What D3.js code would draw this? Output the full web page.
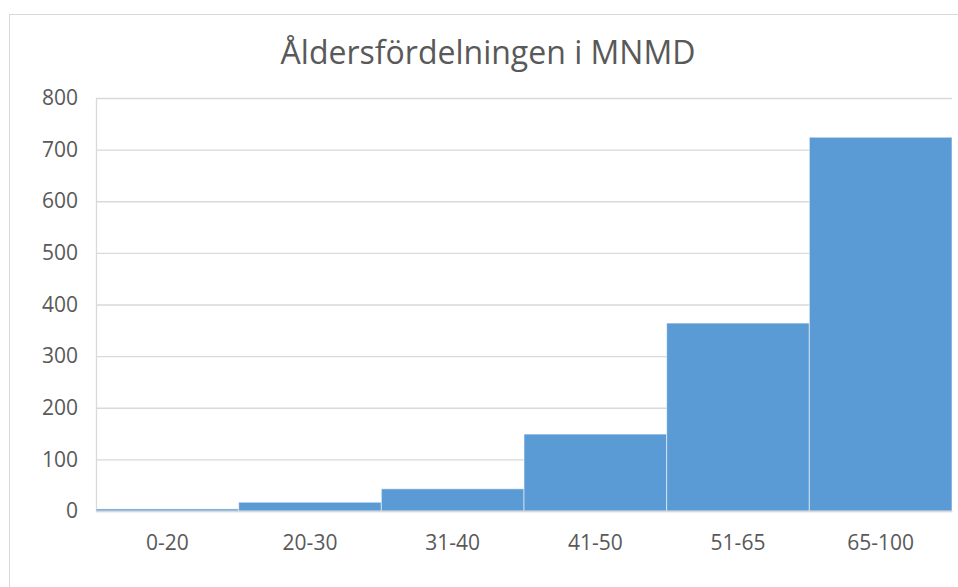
<!DOCTYPE html>
<html>
<head>
<meta charset="utf-8">
<script src="https://cdn.jsdelivr.net/npm/d3@7"></script>
<style>
  html, body { margin: 0; padding: 0; background: #fff; }
  svg { display: block; }
</style>
</head>
<body>
<svg id="chart" width="958" height="587"></svg>
<script>
const titleText = "Åldersfördelningen i MNMD";
const categories = ["0-20", "20-30", "31-40", "41-50", "51-65", "65-100"];
const values = [4, 17, 43, 149, 364, 724];
const yTicks = [0, 100, 200, 300, 400, 500, 600, 700, 800];

const W = 958, H = 587;
const margin = { left: 96, right: 6, top: 98, bottom: 76 };
const svg = d3.select("#chart");
const font = "'Open Sans', 'DejaVu Sans', sans-serif";
const textColor = "#595959";
const gridColor = "#d9d9d9";

// Chart area border
svg.append("rect")
  .attr("x", 9.5).attr("y", 14.5)
  .attr("width", 1200).attr("height", 1200)
  .attr("fill", "#fff")
  .attr("stroke", gridColor).attr("stroke-width", 1);

const x = d3.scaleBand()
  .domain(categories)
  .range([margin.left, W - margin.right])
  .paddingInner(0).paddingOuter(0);

const y = d3.scaleLinear()
  .domain([0, 800])
  .range([H - margin.bottom, margin.top]);

// Gridlines
const yAxisGrid = d3.axisLeft(y)
  .tickValues(yTicks)
  .tickSize(-(W - margin.right - margin.left))
  .tickFormat("");
const grid = svg.append("g")
  .attr("transform", `translate(${margin.left},0)`)
  .call(yAxisGrid);
grid.select(".domain").remove();
grid.selectAll("line")
  .attr("stroke", gridColor).attr("stroke-width", 1.3);

// Vertical axis line
svg.append("line")
  .attr("x1", margin.left + 0.5).attr("x2", margin.left + 0.5)
  .attr("y1", y(800)).attr("y2", y(0))
  .attr("stroke", gridColor).attr("stroke-width", 1.3);

// Bars
svg.append("g").selectAll("rect")
  .data(categories)
  .join("rect")
  .attr("x", d => x(d))
  .attr("y", (d, i) => y(values[i]))
  .attr("width", x.bandwidth())
  .attr("height", (d, i) => y(0) - y(values[i]))
  .attr("fill", "#5b9bd5")
  .attr("stroke", "#ffffff")
  .attr("stroke-opacity", 0.55)
  .attr("stroke-width", 1);

// Y axis labels
const yAxis = d3.axisLeft(y).tickValues(yTicks).tickSize(0).tickPadding(18);
const yg = svg.append("g")
  .attr("transform", `translate(${margin.left},0)`)
  .call(yAxis);
yg.select(".domain").remove();
yg.selectAll("text")
  .attr("font-family", font).attr("font-size", 21)
  .attr("fill", textColor);

// X axis labels
const xAxis = d3.axisBottom(x).tickSize(0).tickPadding(24);
const xg = svg.append("g")
  .attr("transform", `translate(0,${y(0)})`)
  .call(xAxis);
xg.select(".domain").attr("stroke", gridColor).attr("stroke-width", 1.3);
xg.selectAll("text")
  .attr("font-family", font).attr("font-size", 21)
  .attr("fill", textColor);

// Title
svg.append("text")
  .attr("x", 488).attr("y", 64)
  .attr("text-anchor", "middle")
  .attr("font-family", font).attr("font-size", 32)
  .attr("fill", textColor)
  .text(titleText);
</script>
</body>
</html>
